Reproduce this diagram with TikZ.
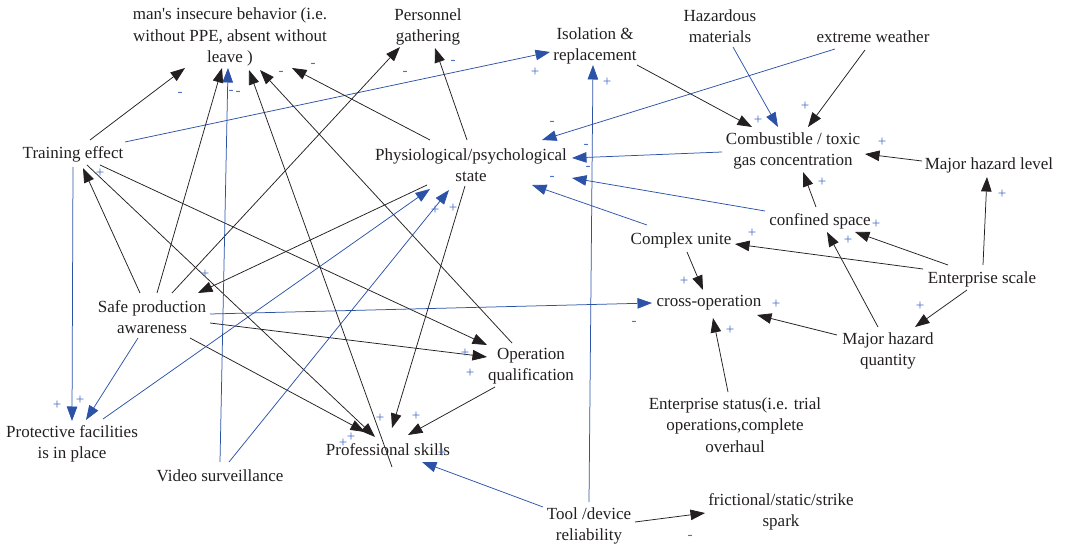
\documentclass[tikz,border=0pt]{standalone}
\usepackage{fontspec}
\setmainfont{Liberation Serif}
\usetikzlibrary{arrows.meta,calc}
\definecolor{lblue}{RGB}{44,82,168}
\definecolor{pblue}{RGB}{72,110,200}
\definecolor{txt}{RGB}{35,31,32}
\tikzset{
  var/.style={align=center,inner sep=0pt,text=txt,font=\fontsize{17}{21.5}\selectfont},
  blk/.style={draw=txt,line width=0.75pt,-{Triangle[length=14.5pt,width=10.5pt]}},
  blu/.style={draw=lblue,line width=0.75pt,-{Triangle[length=14.5pt,width=10.5pt]}},
  pl/.style={inner sep=0pt,text=pblue,font=\fontsize{15}{15}\selectfont}
}
\begin{document}
\begin{tikzpicture}[x=1pt,y=-1pt]
\useasboundingbox (0,0) rectangle (1066,545);
% variables
\node[var] (man) at (230,37) {man\textquotesingle s insecure behavior (i.e.\\ without PPE, absent without\\ leave )};
\node[var] (pg) at (428,27) {Personnel\\ gathering};
\node[var] (iso) at (595,46) {Isolation \&\\ replacement};
\node[var] (haz) at (720,26) {Hazardous\\ materials};
\node[var] (ew) at (873,37) {extreme weather};
\node[var] (te) at (73,154) {Training effect};
\node[var] (phys) at (471,165) {Physiological/psychological\\ state};
\node[var] (comb) at (793,151) {Combustible / toxic\\ gas concentration};
\node[var] (mhl) at (989,165) {Major hazard level};
\node[var] (cs) at (820,221) {confined space};
\node[var] (cu) at (681,240) {Complex unite};
\node[var] (es) at (982,279) {Enterprise scale};
\node[var] (spa) at (152,317) {Safe production\\ awareness};
\node[var] (cross) at (709,303) {cross-operation};
\node[var] (mhq) at (888,351) {Major hazard\\ quantity};
\node[var] (oq) at (531,366) {Operation\\ qualification};
\node[var] (est) at (735,425) {Enterprise status(i.e. trial\\ operations,complete\\ overhaul};
\node[var] (pf) at (72,444) {Protective facilities\\ is in place};
\node[var] (vs) at (220,476) {Video surveillance};
\node[var] (prof) at (388,450) {Professional skills};
\node[var] (tool) at (589,526) {Tool /device\\ reliability};
\node[var] (spark) at (781,512) {frictional/static/strike\\ spark};
% connectors
\draw[blk] ($(te)+(17,-14)$) -- ($(man)+(-45,31)$);
\draw[blu] ($(te)+(52,-12)$) -- ($(iso)+(-45,6)$);
\draw[blu] ($(te)+(0,13)$) -- ($(pf)+(0,-23)$);
\draw[blk] ($(te)+(14,11)$) -- ($(prof)+(-13,-13)$);
\draw[blk] ($(te)+(27,11)$) -- ($(oq)+(-44,-21)$);
\draw[blk] ($(spa)+(-12,-24)$) -- ($(te)+(10,14)$);
\draw[blk] ($(spa)+(5,-24)$) -- ($(man)+(-8,31)$);
\draw[blk] ($(spa)+(20,-24)$) -- ($(pg)+(-28,20)$);
\draw[blk] ($(phys)+(-44,20)$) -- ($(spa)+(46,-24)$);
\draw[blu] ($(spa)+(58,-3)$) -- ($(cross)+(-57,0)$);
\draw[blk] ($(spa)+(58,6)$) -- ($(oq)+(-44,-9)$);
\draw[blk] ($(spa)+(38,21)$) -- ($(prof)+(-23,-18)$);
\draw[blu] ($(spa)+(-14,21)$) -- ($(pf)+(14,-24)$);
\draw[blu] ($(pf)+(31,-25)$) -- ($(phys)+(-41,24)$);
\draw[blu] ($(vs)+(0,-14)$) -- ($(man)+(-2,31)$);
\draw[blu] ($(vs)+(9,-14)$) -- ($(phys)+(-22,25)$);
\draw[blk] ($(prof)+(4,17)$) -- ($(man)+(19,33)$);
\draw[blk] ($(oq)+(-19,-23)$) -- ($(man)+(30,33)$);
\draw[blk] ($(phys)+(-41,-25)$) -- ($(man)+(62,31)$);
\draw[blk] ($(phys)+(-4,-25)$) -- ($(pg)+(7,21)$);
\draw[blk] ($(phys)+(-6,21)$) -- ($(prof)+(4,-22)$);
\draw[blk] ($(oq)+(-36,21)$) -- ($(prof)+(20,-15)$);
\draw[blu] ($(tool)+(-46,-19)$) -- ($(prof)+(34,12)$);
\draw[blu] ($(tool)+(0,-24)$) -- ($(iso)+(-2,19)$);
\draw[blk] ($(tool)+(46,-4)$) -- ($(spark)+(-76,1)$);
\draw[blk] ($(iso)+(42,19)$) -- ($(comb)+(-41,-24)$);
\draw[blu] ($(haz)+(13,21)$) -- ($(comb)+(-15,-24)$);
\draw[blk] ($(ew)+(-8,13)$) -- ($(comb)+(15,-24)$);
\draw[blu] ($(ew)+(-38,12)$) -- ($(phys)+(71,-25)$);
\draw[blu] ($(comb)+(-71,1)$) -- ($(phys)+(101,-7)$);
\draw[blk] ($(mhl)+(-67,-4)$) -- ($(comb)+(72,3)$);
\draw[blk] ($(cs)+(-4,-14)$) -- ($(comb)+(10,21)$);
\draw[blu] ($(cs)+(-55,-10)$) -- ($(phys)+(101,13)$);
\draw[blu] ($(cu)+(-34,-15)$) -- ($(phys)+(61,20)$);
\draw[blk] ($(cu)+(6,12)$) -- ($(cross)+(-6,-13)$);
\draw[blk] ($(es)+(-59,-10)$) -- ($(cu)+(54,4)$);
\draw[blk] ($(es)+(-34,-14)$) -- ($(cs)+(35,11)$);
\draw[blk] ($(es)+(1,-14)$) -- ($(mhl)+(-2,12)$);
\draw[blk] ($(es)+(-15,11)$) -- ($(mhq)+(27,-24)$);
\draw[blk] ($(mhq)+(-10,-24)$) -- ($(cs)+(7,11)$);
\draw[blk] ($(mhq)+(-51,-16)$) -- ($(cross)+(48,12)$);
\draw[blk] ($(est)+(-7,-33)$) -- ($(cross)+(4,15)$);
% polarity labels
\node[pl] (p1) at (180,94) {-};
\node[pl] (p2) at (231,92) {-};
\node[pl] (p3) at (238,93) {-};
\node[pl] (p4) at (281,73) {-};
\node[pl] (p5) at (313,65) {-};
\node[pl] (p6) at (405,73) {-};
\node[pl] (p7) at (453,62) {-};
\node[pl] (p8) at (535,72) {+};
\node[pl] (p9) at (607,82) {+};
\node[pl] (p10) at (552,123) {-};
\node[pl] (p11) at (586,146) {-};
\node[pl] (p12) at (588,168) {-};
\node[pl] (p13) at (552,178) {-};
\node[pl] (p14) at (758,120) {+};
\node[pl] (p15) at (805,106) {+};
\node[pl] (p16) at (882,142) {+};
\node[pl] (p17) at (822,182) {+};
\node[pl] (p18) at (1002,194) {+};
\node[pl] (p19) at (876,224) {+};
\node[pl] (p20) at (848,240) {+};
\node[pl] (p21) at (752,233) {+};
\node[pl] (p22) at (920,306) {+};
\node[pl] (p23) at (684,281) {+};
\node[pl] (p24) at (776,304) {+};
\node[pl] (p25) at (730,330) {+};
\node[pl] (p26) at (634,323) {-};
\node[pl] (p27) at (435,210) {+};
\node[pl] (p28) at (453,208) {+};
\node[pl] (p29) at (205,274) {+};
\node[pl] (p30) at (100,173) {+};
\node[pl] (p31) at (57,405) {+};
\node[pl] (p32) at (80,400) {+};
\node[pl] (p33) at (465,353) {+};
\node[pl] (p34) at (470,373) {+};
\node[pl] (p35) at (380,418) {+};
\node[pl] (p36) at (416,416) {+};
\node[pl] (p37) at (343,443) {+};
\node[pl] (p38) at (351,437) {+};
\node[pl] (p39) at (442,453) {+};
\node[pl] (p40) at (690,537) {-};
\end{tikzpicture}
\end{document}
